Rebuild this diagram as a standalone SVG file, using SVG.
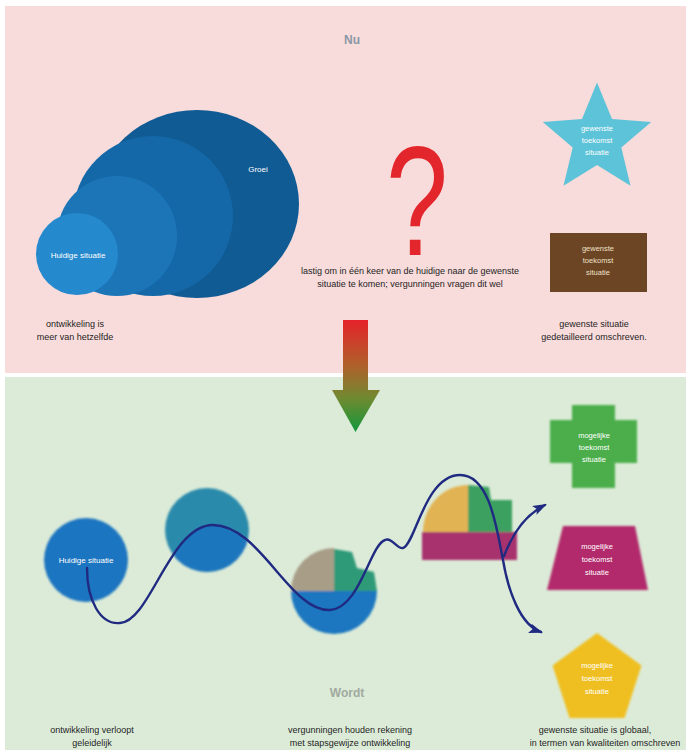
<svg xmlns="http://www.w3.org/2000/svg" width="689" height="750" viewBox="0 0 689 750">
<defs>
<style>
.t{font-family:"Liberation Sans",Arial,sans-serif;font-size:9px;fill:#1e1e1e;text-anchor:middle}
.w{font-family:"Liberation Sans",Arial,sans-serif;font-size:7.5px;fill:#ffffff;text-anchor:middle}
.h{font-family:"Liberation Sans",Arial,sans-serif;font-size:12px;font-weight:bold;text-anchor:middle}
.wave{fill:none;stroke:#1f2a80;stroke-width:2.4;stroke-linecap:round}
</style>
<linearGradient id="ag" x1="0" y1="320" x2="0" y2="432" gradientUnits="userSpaceOnUse">
<stop offset="0" stop-color="#e5222a"/>
<stop offset="0.4" stop-color="#b0602a"/>
<stop offset="0.7" stop-color="#6f8a30"/>
<stop offset="1" stop-color="#12973c"/>
</linearGradient>
<filter id="soft" x="-10%" y="-10%" width="120%" height="120%"><feGaussianBlur stdDeviation="1.1"/></filter>
<clipPath id="c2"><circle cx="207" cy="530" r="42"/></clipPath>
<marker id="ah" viewBox="0 0 14 10" refX="12" refY="5" markerWidth="14" markerHeight="10" markerUnits="userSpaceOnUse" orient="auto">
<path d="M0 0 L14 5 L0 10 L3 5 Z" fill="#1f2a80"/>
</marker>
</defs>

<rect x="0" y="0" width="689" height="750" fill="#ffffff"/>
<rect x="5" y="6" width="681" height="367" fill="#f8dbdb"/>
<rect x="5" y="377" width="681" height="373" fill="#dcebd8"/>

<text class="h" x="352" y="44" fill="#8a98a6">Nu</text>

<g id="groei">
<ellipse cx="197" cy="204" rx="102" ry="94" fill="#105b94"/>
<ellipse cx="153" cy="216" rx="80" ry="80" fill="#1568a7"/>
<ellipse cx="117" cy="236" rx="60" ry="60" fill="#1b75b7"/>
<text class="w" x="258" y="172" style="font-size:8px">Groei</text>
</g>
<g id="huidig-top">
<circle cx="77" cy="254" r="41" fill="#2589cd"/>
<text class="w" x="78" y="258" style="font-size:8px">Huidige situatie</text>
</g>

<g id="vraag">
<text transform="translate(417,255) scale(0.72,1)" x="0" y="0" font-family="Liberation Sans,Arial,sans-serif" font-size="155" fill="#e3262c" text-anchor="middle">?</text>
<text class="t" x="410" y="274">lastig om in één keer van de huidige naar de gewenste</text>
<text class="t" x="410" y="287">situatie te komen; vergunningen vragen dit wel</text>
</g>

<g id="ster">
<polygon points="597,82.6 612,119 651.2,121.9 621.3,147.4 630.5,185.7 597,165 563.5,185.7 572.7,147.4 542.8,121.9 582,119" fill="#5cc3d8"/>
<text class="w" x="597" y="131">gewenste</text>
<text class="w" x="597" y="143">toekomst</text>
<text class="w" x="597" y="155">situatie</text>
</g>

<g id="bruin">
<rect x="550" y="233" width="97" height="59" fill="#6c4525"/>
<text class="w" x="598" y="251" style="fill:#efe0c8">gewenste</text>
<text class="w" x="598" y="263" style="fill:#efe0c8">toekomst</text>
<text class="w" x="598" y="275" style="fill:#efe0c8">situatie</text>
</g>

<g id="tekst-boven">
<text class="t" x="75" y="327">ontwikkeling is</text>
<text class="t" x="75" y="340">meer van hetzelfde</text>
<text class="t" x="594" y="327">gewenste situatie</text>
<text class="t" x="594" y="340">gedetailleerd omschreven.</text>
</g>

<g id="pijl">
<path d="M343 320 L368 320 L368 390 L380 390 L355.5 432 L332 390 L343 390 Z" fill="url(#ag)"/>
</g>

<g id="huidig">
<circle cx="86" cy="560" r="42" fill="#1b74c0" filter="url(#soft)"/>
<text class="w" x="86" y="563" style="font-size:8px">Huidige situatie</text>
</g>

<g id="stap1" filter="url(#soft)">
<circle cx="207" cy="530" r="42" fill="#2a8aab"/>
<path d="M120 623 C150 622 170 525 213 525 C260 525 290 612 330 610 L330 640 L120 640 Z" fill="#1b76bd" clip-path="url(#c2)"/>
</g>

<g id="stap2" filter="url(#soft)">
<path d="M291 591 A43 43 0 0 0 377 591 Z" fill="#1c77c0"/>
<path d="M334 591 L291 591 A43 43 0 0 1 334 548 Z" fill="#a89e88"/>
<path d="M334 591 L334 549 L352 552 L357 568 L374 572 L377 591 Z" fill="#2e9a78"/>
</g>

<g id="stap3" filter="url(#soft)">
<path d="M468 532 L423 532 A45 47 0 0 1 468 485 Z" fill="#e2b352"/>
<path d="M468 485 L489 487 L491 500 L512 500 L512 532 L468 532 Z" fill="#3aa060"/>
<rect x="422" y="532" width="95" height="28" fill="#a8306e"/>
</g>

<g id="kruis">
<path d="M572 405 L615 405 L615 420 L637 420 L637 463 L615 463 L615 488 L572 488 L572 463 L550 463 L550 420 L572 420 Z" fill="#4cae4c" filter="url(#soft)"/>
<text class="w" x="594" y="438">mogelijke</text>
<text class="w" x="594" y="450">toekomst</text>
<text class="w" x="594" y="462">situatie</text>
</g>

<g id="trapezium">
<polygon points="563,526 635,526 648,590 547,590" fill="#b22a6c" filter="url(#soft)"/>
<text class="w" x="597" y="549">mogelijke</text>
<text class="w" x="597" y="562">toekomst</text>
<text class="w" x="597" y="575">situatie</text>
</g>

<g id="vijfhoek">
<polygon points="597,633 641.5,665.5 624.5,718 569.5,718 552.5,665.5" fill="#efbf22" filter="url(#soft)"/>
<text class="w" x="597" y="668">mogelijke</text>
<text class="w" x="597" y="681">toekomst</text>
<text class="w" x="597" y="694">situatie</text>
</g>

<g id="verbindingen">
<path class="wave" marker-end="url(#ah)" d="M87 568 C87 600 100 625 120 623 C150 622 170 525 213 525 C260 525 290 612 330 610 C360 608 370 545 385 540 C392 537 398 550 403 548 C415 545 425 475 460 475 C490 475 497 530 503 560 C508 590 520 625 541 632"/>
<path class="wave" marker-end="url(#ah)" d="M504 556 C512 535 525 515 545 505"/>
</g>

<text class="h" x="347" y="697" fill="#a0aaa0">Wordt</text>

<g id="tekst-onder">
<text class="t" x="92" y="733">ontwikkeling verloopt</text>
<text class="t" x="92" y="746">geleidelijk</text>
<text class="t" x="350" y="733">vergunningen houden rekening</text>
<text class="t" x="350" y="746">met stapsgewijze ontwikkeling</text>
<text class="t" x="595" y="733">gewenste situatie is globaal,</text>
<text class="t" x="605" y="746">in termen van kwaliteiten omschreven</text>
</g>
</svg>
